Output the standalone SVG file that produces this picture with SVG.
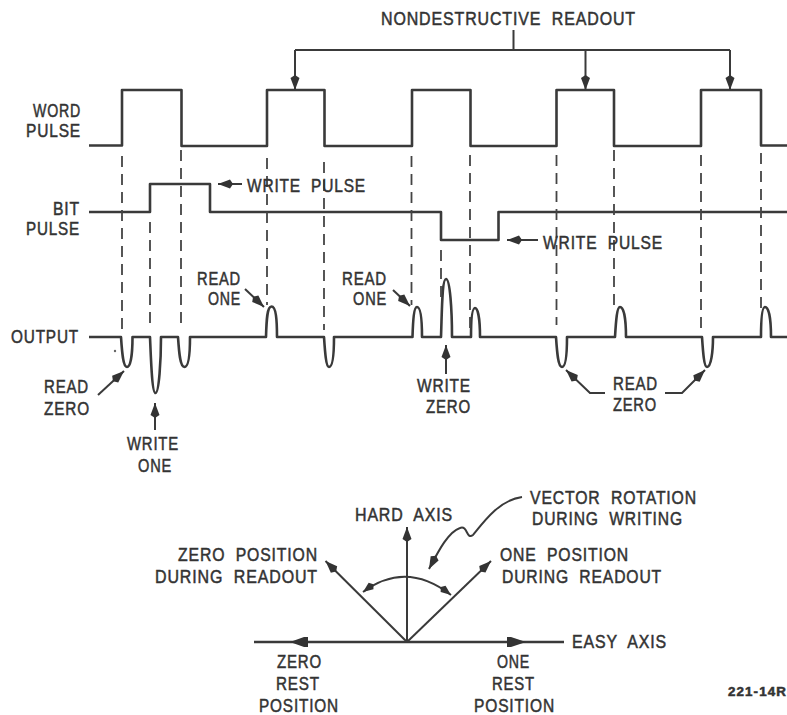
<svg xmlns="http://www.w3.org/2000/svg" width="787" height="715" viewBox="0 0 787 715">
<style>
text{font-family:"Liberation Sans",Arial,sans-serif;font-size:18.500px;fill:#333;stroke:#333;stroke-width:.5;letter-spacing:1px;word-spacing:6px;text-anchor:start}
.w{fill:none;stroke:#3a3a3a;stroke-width:2.6;stroke-linejoin:round}
.d{fill:none;stroke:#444;stroke-width:1.800;stroke-dasharray:11 7}
.c{fill:none;stroke:#3a3a3a;stroke-width:2}
.a{fill:none;stroke:#3a3a3a;stroke-width:2;marker-end:url(#ah)}
</style>
<defs>
<marker id="ah" markerUnits="userSpaceOnUse" markerWidth="18" markerHeight="12" refX="15" refY="5.500" orient="auto"><path d="M0,5.500 L3,1 L15,5.500 L3,10 Z" fill="#333"/></marker>
<marker id="ah2" markerUnits="userSpaceOnUse" markerWidth="18" markerHeight="12" refX="13" refY="5" orient="auto-start-reverse"><path d="M0,5 L3,1 L13,5 L3,9 Z" fill="#333"/></marker>
</defs>
<rect width="787" height="715" fill="#fff"/>
<g id="word-pulse"><path class="w" d="M89,145.500H122V90H181.500V146H267V90H324.500V146H412V90H470.500V146H556.500V90H614V146H701V90H761V145.500H787"/>
<text x="33" y="117" textLength="48" lengthAdjust="spacingAndGlyphs">WORD</text><text x="26" y="137" textLength="55" lengthAdjust="spacingAndGlyphs">PULSE</text></g>
<g id="bit-pulse"><path class="w" d="M89,212H150V184H210V212H441V240H498.500V212H787"/>
<text x="53" y="215" textLength="27" lengthAdjust="spacingAndGlyphs">BIT</text><text x="26" y="235" textLength="54" lengthAdjust="spacingAndGlyphs">PULSE</text></g>
<g id="output"><path class="w" d="M89,337H121C122,352 123,367 127,367C131,367 132.500,352 132.500,337H150C151,360 152,393 155.500,393C159,393 161,360 161,337H178C179,352 180,367 184.500,367C189,367 190,352 190,337H266C266.500,320 267,306.500 271.500,306.500C276,306.500 277,320 277,337H324C325,352 326,367 329,367C333,367 334,352 334,337H412.500C413,320 414,307 417,307C421,307 422,320 422,337H441C442,310 442,279 446,279C450,279 452,310 452,337H471C471,320 472,308 475,308C478,308 480,320 480,337H556C557,352 558,367 562,367C566,367 567,352 567,337H615C616,320 617,307 620,307C624,307 626,320 626,337H702C703,352 704,367 707,367C711,367 713,352 713,337H761C761,320 762,307 765,307C769,307 771,320 771,337H787"/>
<text x="11" y="343" textLength="68" lengthAdjust="spacingAndGlyphs">OUTPUT</text></g>
<circle cx="115" cy="351" r="1.200" fill="#666"/>
<g id="guides">
<path class="d" d="M122,156V330M181,150V330M267,158V305M324,162V330M411.500,156V305M470,155V330M556.500,155V325M614,150V312M701,155V330M761,153V312M150,222V330M441,250V300"/>
</g>
<g id="connectors">
<path class="c" d="M513.500,30V50M295,50H730"/>
<path class="a" d="M295,50V90"/><path class="a" d="M585.500,50V90"/><path class="a" d="M730,50V90"/>
<path class="a" d="M242,184H218"/><path class="a" d="M538,240H507"/>
<path class="a" d="M245,289L264,307"/><path class="a" d="M393,290L410,306"/>
<path class="a" d="M98,395L124,371"/><path class="a" d="M155,430V403"/><path class="a" d="M446,374V345"/>
<path class="a" d="M605,393H590L566,370"/><path class="a" d="M665,393H682L705,370"/>
<path class="a" d="M407,642V527"/><path class="a" d="M407,642L325.500,561"/><path class="a" d="M407,642L491,561"/>
<path class="c" d="M254,642H564" style="stroke-width:2.600"/><path fill="#333" d="M290,642L304,637H308V647H304ZM526,642L511,637H507V647H511Z"/>
<path class="c" d="M363,592Q406,560 451,595" marker-start="url(#ah2)" marker-end="url(#ah2)"/>
<path class="a" d="M522,497C500,500 485,520 473,535C466,540 468,525 460,528C448,532 438,552 429,569"/>
</g>
<g id="label-nondestructive"><text x="381" y="25" textLength="255" lengthAdjust="spacingAndGlyphs">NONDESTRUCTIVE READOUT</text></g>
<g id="label-write-pulse-1"><text x="247" y="192" textLength="119" lengthAdjust="spacingAndGlyphs">WRITE PULSE</text></g>
<g id="label-write-pulse-2"><text x="543" y="249" textLength="120" lengthAdjust="spacingAndGlyphs">WRITE PULSE</text></g>
<g id="label-read-one-1"><text x="197" y="285" textLength="44" lengthAdjust="spacingAndGlyphs">READ</text><text x="208" y="305" textLength="33" lengthAdjust="spacingAndGlyphs">ONE</text></g>
<g id="label-read-one-2"><text x="342" y="285" textLength="45" lengthAdjust="spacingAndGlyphs">READ</text><text x="353" y="305" textLength="34" lengthAdjust="spacingAndGlyphs">ONE</text></g>
<g id="label-read-zero-1"><text x="44" y="393" textLength="45" lengthAdjust="spacingAndGlyphs">READ</text><text x="44" y="415" textLength="46" lengthAdjust="spacingAndGlyphs">ZERO</text></g>
<g id="label-write-one"><text x="127" y="450" textLength="52" lengthAdjust="spacingAndGlyphs">WRITE</text><text x="138" y="472" textLength="34" lengthAdjust="spacingAndGlyphs">ONE</text></g>
<g id="label-write-zero"><text x="417" y="392" textLength="54" lengthAdjust="spacingAndGlyphs">WRITE</text><text x="426" y="413" textLength="45" lengthAdjust="spacingAndGlyphs">ZERO</text></g>
<g id="label-read-zero-2"><text x="613" y="390" textLength="45" lengthAdjust="spacingAndGlyphs">READ</text><text x="613" y="411" textLength="44" lengthAdjust="spacingAndGlyphs">ZERO</text></g>
<g id="label-vector"><text x="530" y="504" textLength="167" lengthAdjust="spacingAndGlyphs">VECTOR ROTATION</text><text x="532" y="525" textLength="151" lengthAdjust="spacingAndGlyphs">DURING WRITING</text></g>
<g id="label-hard-axis"><text x="355" y="521" textLength="98" lengthAdjust="spacingAndGlyphs">HARD AXIS</text></g>
<g id="label-zero-position"><text x="178" y="561" textLength="140" lengthAdjust="spacingAndGlyphs">ZERO POSITION</text><text x="155" y="583" textLength="163" lengthAdjust="spacingAndGlyphs">DURING READOUT</text></g>
<g id="label-one-position"><text x="500" y="561" textLength="129" lengthAdjust="spacingAndGlyphs">ONE POSITION</text><text x="502" y="583" textLength="160" lengthAdjust="spacingAndGlyphs">DURING READOUT</text></g>
<g id="label-easy-axis"><text x="572" y="648" textLength="95" lengthAdjust="spacingAndGlyphs">EASY AXIS</text></g>
<g id="label-zero-rest"><text x="277" y="668" textLength="45" lengthAdjust="spacingAndGlyphs">ZERO</text><text x="276" y="690" textLength="44" lengthAdjust="spacingAndGlyphs">REST</text><text x="259" y="712" textLength="80" lengthAdjust="spacingAndGlyphs">POSITION</text></g>
<g id="label-one-rest"><text x="497" y="668" textLength="33" lengthAdjust="spacingAndGlyphs">ONE</text><text x="492" y="690" textLength="43" lengthAdjust="spacingAndGlyphs">REST</text><text x="474" y="712" textLength="81" lengthAdjust="spacingAndGlyphs">POSITION</text></g>
<g id="label-ref"><text x="728" y="696" textLength="59" lengthAdjust="spacingAndGlyphs" style="font-size:12px;font-weight:bold;word-spacing:0">221-14R</text></g>
</svg>
